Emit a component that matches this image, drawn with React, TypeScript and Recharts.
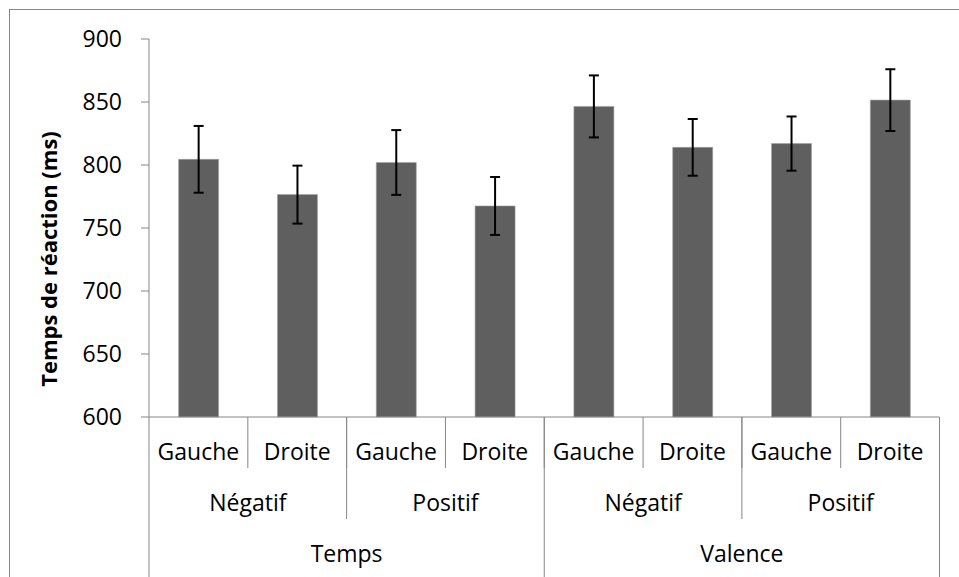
import { BarChart, Bar, XAxis, YAxis, ErrorBar } from 'recharts'

// one entry per bar, left to right
const sides = ['Gauche', 'Droite', 'Gauche', 'Droite', 'Gauche', 'Droite', 'Gauche', 'Droite']
const valences = ['Négatif', 'Négatif', 'Positif', 'Positif', 'Négatif', 'Négatif', 'Positif', 'Positif']
const tasks = ['Temps', 'Temps', 'Temps', 'Temps', 'Valence', 'Valence', 'Valence', 'Valence']
const meanRT = [804.5, 776.5, 802, 767.5, 846.5, 814, 817, 851.5]
const errRT = [26.5, 23, 25.7, 23, 24.6, 22.5, 21.5, 24.5]
const yTicks = [600, 650, 700, 750, 800, 850, 900]

const data = meanRT.map((rt, i) => ({
  id: i,
  side: sides[i],
  valence: valences[i],
  task: tasks[i],
  rt,
  err: errRT[i],
}))

const AXIS = '#868686'
const FONT = '"Open Sans", sans-serif'
const LABEL_SIZE = 23

function half(payload: any) {
  return payload?.offset ?? 49.4
}

function SideTick({ x, y, payload, index }: any) {
  const h = half(payload)
  return (
    <g>
      <text x={x} y={y + 43} textAnchor="middle" fontFamily={FONT} fontSize={LABEL_SIZE} fill="#000">
        {sides[index]}
      </text>
      {index < sides.length - 1 && (
        <line x1={x + h} x2={x + h} y1={y} y2={y + 51} stroke={AXIS} />
      )}
    </g>
  )
}

function ValenceTick({ x, y, payload, index }: any) {
  const h = half(payload)
  if (index % 2 !== 0) return <g />
  return (
    <g>
      <text x={x + h} y={y + 43} textAnchor="middle" fontFamily={FONT} fontSize={LABEL_SIZE} fill="#000">
        {valences[index]}
      </text>
      {index % 4 === 2 && <line x1={x - h} x2={x - h} y1={y - 51} y2={y + 51} stroke={AXIS} />}
    </g>
  )
}

function TaskTick({ x, y, payload, index }: any) {
  const h = half(payload)
  const last = index === tasks.length - 1
  return (
    <g>
      {index % 4 === 0 && (
        <>
          <text x={x + 3 * h} y={y + 43} textAnchor="middle" fontFamily={FONT} fontSize={LABEL_SIZE} fill="#000">
            {tasks[index]}
          </text>
          <line x1={x - h} x2={x - h} y1={y - 102} y2={y + 60} stroke={AXIS} />
        </>
      )}
      {last && <line x1={x + h} x2={x + h} y1={y - 102} y2={y + 60} stroke={AXIS} />}
    </g>
  )
}

function YTitle() {
  return (
    <text
      transform="translate(56.5,259) rotate(-90)"
      textAnchor="middle"
      fontFamily={FONT}
      fontWeight="bold"
      fontSize={22}
      fill="#000"
    >
      Temps de réaction (ms)
    </text>
  )
}

export default function App() {
  return (
    <div
      style={{
        position: 'absolute',
        left: 0,
        top: 0,
        width: 959,
        height: 577,
        overflow: 'hidden',
        background: '#fff',
      }}
    >
      <div
        style={{
          position: 'absolute',
          left: 9,
          top: 9,
          width: 1000,
          height: 700,
          borderLeft: `1px solid ${AXIS}`,
          borderTop: `1px solid ${AXIS}`,
        }}
      />
      <BarChart
        width={959}
        height={577}
        data={data}
        margin={{ top: 39, right: 19.5, left: 0, bottom: 0 }}
        barCategoryGap="30%"
        style={{ position: 'absolute', left: 0, top: 0 }}
      >
        <XAxis
          xAxisId="a1"
          dataKey="id"
          height={51}
          interval={0}
          tickLine={false}
          tickSize={0}
          tickMargin={0}
          axisLine={{ stroke: AXIS }}
          tick={<SideTick />}
        />
        <XAxis
          xAxisId="a2"
          dataKey="id"
          height={51}
          interval={0}
          tickLine={false}
          tickSize={0}
          tickMargin={0}
          axisLine={false}
          tick={<ValenceTick />}
        />
        <XAxis
          xAxisId="a3"
          dataKey="id"
          height={58}
          interval={0}
          tickLine={false}
          tickSize={0}
          tickMargin={0}
          axisLine={false}
          tick={<TaskTick />}
        />
        <YAxis
          width={149}
          domain={[600, 900]}
          ticks={yTicks}
          interval={0}
          tickSize={8}
          tickMargin={19}
          axisLine={{ stroke: AXIS }}
          tickLine={{ stroke: AXIS }}
          tick={{ fill: '#000', fontFamily: FONT, fontSize: LABEL_SIZE }}
          label={{ content: () => <YTitle /> }}
        />
        <Bar
          xAxisId="a1"
          dataKey="rt"
          fill="#5f5f5f"
          stroke="#a3a3a3"
          strokeWidth={0.6}
          isAnimationActive={false}
        >
          <ErrorBar dataKey="err" width={5} strokeWidth={2} stroke="#000" isAnimationActive={false} />
        </Bar>
      </BarChart>
    </div>
  )
}
